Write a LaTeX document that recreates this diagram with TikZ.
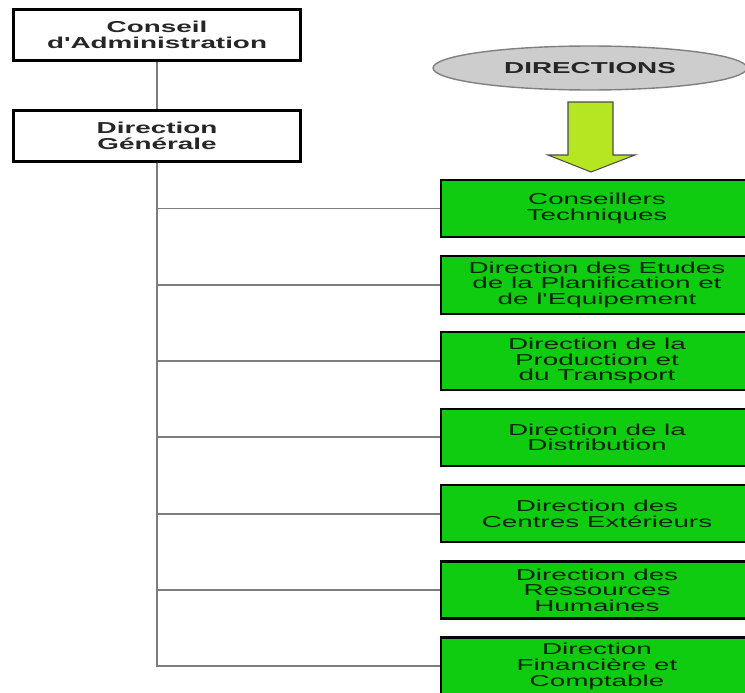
\documentclass[tikz,border=0pt]{standalone}
\usepackage{fontspec}
\setmainfont{Liberation Sans}
\newfontfamily\widefont[FakeStretch=1.76]{Liberation Sans}
\usetikzlibrary{shapes.geometric}
\definecolor{boxgreen}{RGB}{16,204,16}
\definecolor{arrowlime}{RGB}{182,230,34}
\definecolor{ovalgray}{RGB}{205,205,205}
\definecolor{linegray}{RGB}{125,125,125}

\tikzset{
 orgbox/.style={draw=black, line width=1.3pt, fill=white, minimum width=5.74cm, minimum height=1.02cm, align=center, font=\widefont\bfseries\fontsize{9}{8.9}\selectfont, text=black!85},
 dirbox/.style={draw=black, line width=1.3pt, fill=boxgreen, minimum width=6.24cm, minimum height=1.14cm, align=center, font=\widefont\fontsize{9}{8.9}\selectfont, text=black!85!green},
 link/.style={draw=linegray, line width=1.1pt},
}

\begin{document}
\begin{tikzpicture}[x=0.02cm, y=-0.02cm]
\clip (0,0) rectangle (745,693);

% top of the chart
\node[orgbox] (conseil) at (157,35) {Conseil\\d'Administration};
\node[orgbox] (dg) at (157,136) {Direction\\Générale};
\draw[link] (conseil) -- (dg);

% heading and arrow
\node[ellipse, draw=gray, fill=ovalgray, line width=0.8pt, minimum width=6.28cm, minimum height=0.88cm, font=\widefont\bfseries\fontsize{9}{8.9}\selectfont, text=black!85] (directions) at (590,68) {DIRECTIONS};
\draw[fill=arrowlime, draw=black!70, line width=0.6pt] (568,102) -- (613,102) -- (613,155) -- (635,155) -- (591,172) -- (548,155) -- (568,155) -- cycle;

% the directions
\foreach \txt [count=\i] in {{Conseillers\\Techniques},
 {Direction des Etudes\\de la Planification et\\de l'Equipement},
 {Direction de la\\Production et\\du Transport},
 {Direction de la\\Distribution},
 {Direction des\\Centres Extérieurs},
 {Direction des\\Ressources\\Humaines},
 {Direction\\Financière et\\Comptable}} {
 \node[dirbox] (dir\i) at (597,{208.5+76.3*(\i-1)}) {\txt};
 \draw[link] (dg.south) |- (dir\i.west);
}
\end{tikzpicture}
\end{document}
